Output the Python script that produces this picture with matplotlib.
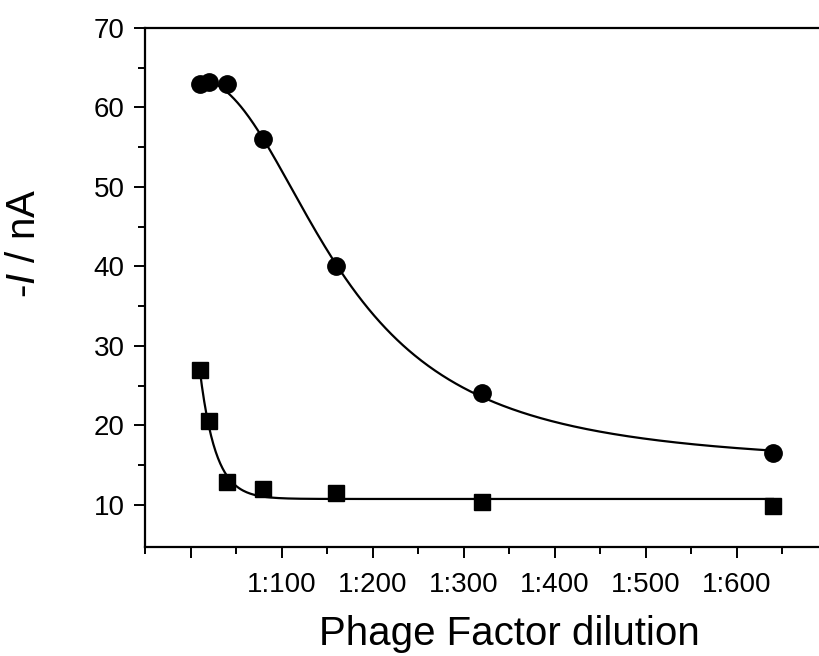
import numpy as np
import matplotlib
matplotlib.use("Agg")
import matplotlib.pyplot as plt
from matplotlib.ticker import MultipleLocator, FixedLocator, FixedFormatter

plt.rcParams['font.family'] = ['Liberation Sans', 'DejaVu Sans']
plt.rcParams['mathtext.fontset'] = 'custom'
plt.rcParams['mathtext.it'] = 'Liberation Sans:italic'
plt.rcParams['mathtext.rm'] = 'Liberation Sans'

# dilution factor (1:x) and measured current
dilution = [10, 20, 40, 80, 160, 320, 640]
current_circles = [63.0, 63.2, 62.9, 56.0, 40.0, 24.1, 16.5]
current_squares = [27.0, 20.5, 12.9, 12.0, 11.5, 10.4, 9.8]
tick_pos = [0, 100, 200, 300, 400, 500, 600, 700]
tick_labels = ['', '1:100', '1:200', '1:300', '1:400', '1:500', '1:600', '']

x = np.array(dilution, dtype=float)
yc = np.array(current_circles)
ys = np.array(current_squares)


# fit: y = A2 + (A1-A2)/(1+(x/x0)^p)  (grid over x0, p; linear solve for A1, A2)
def fit_hill(x, y):
    best = None
    for x0 in np.linspace(60, 300, 121):
        for p in np.linspace(1.0, 5.0, 81):
            f = 1.0 / (1.0 + (x / x0) ** p)
            M = np.column_stack([f, 1 - f])
            coef, *_ = np.linalg.lstsq(M, y, rcond=None)
            r = np.sum((M @ coef - y) ** 2)
            if best is None or r < best[0]:
                best = (r, x0, p, coef)
    _, x0, p, coef = best
    return lambda t: coef[0] / (1 + (t / x0) ** p) + coef[1] * (1 - 1 / (1 + (t / x0) ** p))


# fit: y = y0 + A*exp(-x/t)
def fit_exp(x, y):
    best = None
    for tau in np.linspace(3, 60, 571):
        M = np.column_stack([np.ones_like(x), np.exp(-x / tau)])
        coef, *_ = np.linalg.lstsq(M, y, rcond=None)
        r = np.sum((M @ coef - y) ** 2)
        if best is None or r < best[0]:
            best = (r, tau, coef)
    _, tau, coef = best
    return lambda t: coef[0] + coef[1] * np.exp(-t / tau)


hill = fit_hill(x, yc)
expd = fit_exp(x, ys)
xs = np.linspace(x.min(), x.max(), 500)

fig = plt.figure(figsize=(8.19, 6.56), dpi=100)
ax = fig.add_axes([145 / 819, 109 / 656, 728 / 819, 519 / 656])

ax.plot(xs, hill(xs), color='black', lw=1.6)
ax.plot(xs, expd(xs), color='black', lw=1.6)
ax.plot(x, yc, 'o', color='black', ms=12.5, zorder=3)
ax.plot(x, ys, 's', color='black', ms=11, zorder=3)

ax.set_xlim(-50, 750)
ax.set_ylim(4.7, 70)

ax.xaxis.set_major_locator(FixedLocator(tick_pos))
ax.xaxis.set_major_formatter(FixedFormatter(tick_labels))
ax.xaxis.set_minor_locator(MultipleLocator(50))
ax.yaxis.set_major_locator(MultipleLocator(10))
ax.yaxis.set_minor_locator(FixedLocator([15, 25, 35, 45, 55, 65]))

ax.tick_params(which='major', direction='out', length=8, width=1.4, labelsize=20)
ax.tick_params(which='minor', direction='out', length=5, width=1.4)
ax.tick_params(axis='x', which='major', pad=10)
ax.tick_params(axis='y', which='major', pad=6.5)

for s in ['left', 'bottom', 'top']:
    ax.spines[s].set_linewidth(1.6)
ax.spines['right'].set_visible(False)

ax.set_xlabel('Phage Factor dilution', fontsize=29, labelpad=12)
ax.set_ylabel('-$\\mathit{I}$ / nA', fontsize=29)
ax.yaxis.set_label_coords(-0.14, 0.586)

fig.savefig('out.png', dpi=100)
